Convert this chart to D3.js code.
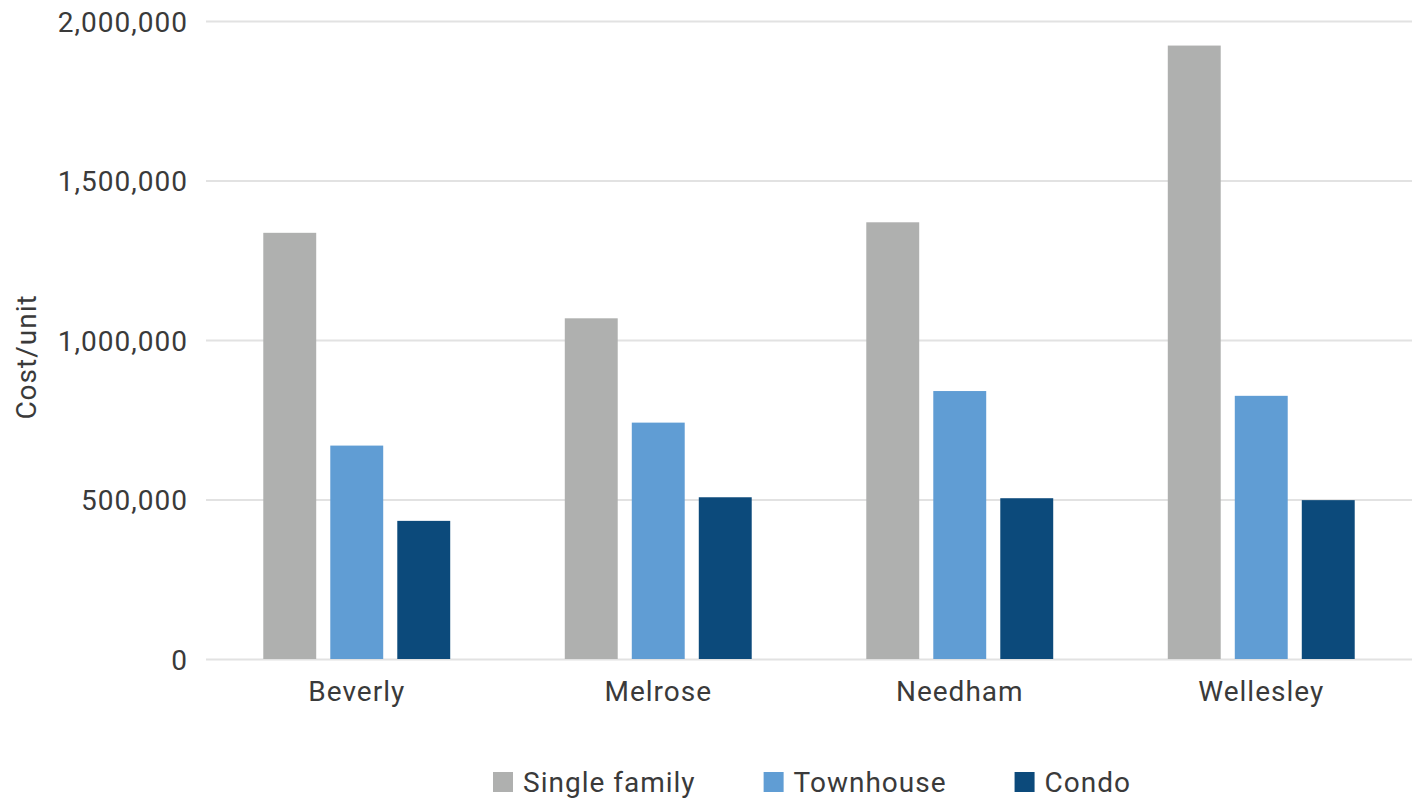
<!DOCTYPE html>
<html>
<head>
<meta charset="utf-8">
<script src="https://cdn.jsdelivr.net/npm/d3@7"></script>
<style>
  html, body { margin: 0; padding: 0; background: #ffffff; }
  svg { display: block; }
  text { font-family: Roboto, "Noto Sans", sans-serif; fill: #3a3a3a; letter-spacing: 1px; }
</style>
</head>
<body>
<svg id="chart" width="1412" height="801"></svg>
<script>
// Median cost per unit by town and housing type
const towns = ["Beverly", "Melrose", "Needham", "Wellesley"];
const seriesNames = ["Single family", "Townhouse", "Condo"];
const singleFamily = [1336000, 1068000, 1369000, 1923000];
const townhouse = [669000, 741000, 840000, 825000];
const condo = [433000, 507000, 504000, 498000];
const yTicks = [0, 500000, 1000000, 1500000, 2000000];
const seriesColors = ["#afb0af", "#609dd4", "#0c4a7b"];

const seriesValues = [singleFamily, townhouse, condo];
const rows = towns.map((t, i) => ({
  town: t,
  values: seriesNames.map((s, k) => ({ key: s, value: seriesValues[k][i] }))
}));

const svg = d3.select("#chart");
const margin = { top: 21, right: 0, bottom: 142, left: 206 };
const width = 1412 - margin.left - margin.right;
const height = 801 - margin.top - margin.bottom;

const g = svg.append("g").attr("transform", `translate(${margin.left},${margin.top})`);

const x0 = d3.scaleBand().domain(towns).range([0, width])
  .paddingInner(0.38).paddingOuter(0.19);
const x1 = d3.scaleBand().domain(seriesNames).range([0, x0.bandwidth()])
  .paddingInner(0.21).paddingOuter(0);
const y = d3.scaleLinear().domain([0, 2000000]).range([height, 0]);
const color = d3.scaleOrdinal().domain(seriesNames).range(seriesColors);

// Horizontal gridlines with value labels
const yAxis = d3.axisLeft(y).tickValues(yTicks).tickFormat(d3.format(",")).tickSize(-width).tickPadding(18);
const yG = g.append("g").call(yAxis);
yG.select(".domain").remove();
yG.selectAll(".tick line").attr("stroke", "#e2e2e2").attr("stroke-width", 2);
yG.selectAll(".tick text").attr("font-size", 28).attr("fill", "#3a3a3a").attr("dy", "0.36em");

// Grouped bars
const groups = g.selectAll(".town").data(rows).join("g")
  .attr("class", "town")
  .attr("transform", d => `translate(${x0(d.town)},0)`);
groups.selectAll("rect").data(d => d.values).join("rect")
  .attr("x", d => x1(d.key))
  .attr("y", d => y(d.value))
  .attr("width", x1.bandwidth())
  .attr("height", d => y(0) - y(d.value))
  .attr("fill", d => color(d.key));

// Category axis labels
const xAxis = d3.axisBottom(x0).tickSize(0).tickPadding(22);
const xG = g.append("g").attr("transform", `translate(0,${height})`).call(xAxis);
xG.select(".domain").remove();
xG.selectAll(".tick text").attr("font-size", 28).attr("fill", "#3a3a3a");

// Axis title
svg.append("text")
  .attr("transform", `translate(36,357) rotate(-90)`)
  .attr("text-anchor", "middle")
  .attr("font-size", 28)
  .text("Cost/unit");

// Legend, centred under the plot
const legendGap = 68;
const legend = svg.append("g");
const items = legend.selectAll("g").data(seriesNames).join("g");
items.append("rect").attr("width", 20).attr("height", 20).attr("y", -20)
  .attr("fill", d => color(d));
items.append("text").attr("x", 30).attr("y", 0).attr("font-size", 28).text(d => d);
let cursor = 0;
items.each(function () {
  const w = this.getBBox().width;
  d3.select(this).attr("transform", `translate(${cursor},0)`);
  cursor += w + legendGap;
});
const legendWidth = cursor - legendGap;
legend.attr("transform", `translate(${margin.left + width / 2 - legendWidth / 2 + 3},792)`);
</script>
</body>
</html>
